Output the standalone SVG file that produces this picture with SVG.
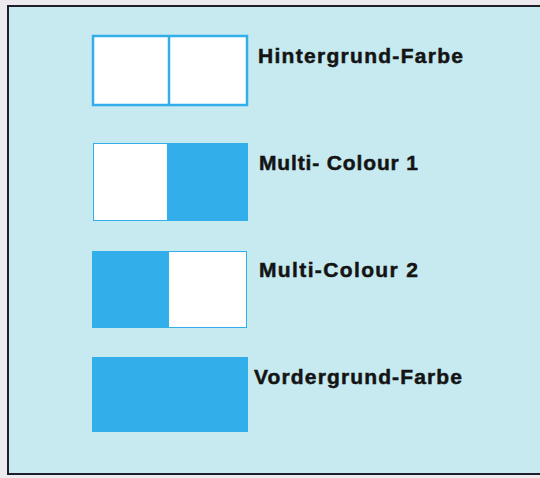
<svg xmlns="http://www.w3.org/2000/svg" width="540" height="478" viewBox="0 0 540 478">
<style>
.lbl{font-family:"Liberation Sans",Arial,sans-serif;font-weight:bold;font-size:21px;fill:#141414;stroke:#141414;stroke-width:0.5}
.w{fill:#ffffff}
.b{fill:#32aeea}
.o{fill:none;stroke:#32aeea;stroke-width:2.5}
</style>
<rect x="0" y="0" width="540" height="478" fill="#ece9ef"/>
<rect x="8" y="6" width="536" height="468" fill="#c6eaf0" stroke="#1e1e2a" stroke-width="2"/>
<g id="hintergrund">
<rect class="w" x="93" y="36" width="154" height="69"/>
<rect class="o" x="93" y="36" width="154" height="69"/>
<line x1="169" y1="36" x2="169" y2="105" stroke="#32aeea" stroke-width="2.5"/>
<text class="lbl" x="258" y="63" textLength="205" lengthAdjust="spacing">Hintergrund-Farbe</text>
</g>
<g id="multi1">
<rect class="b" x="93" y="143" width="155" height="78"/>
<rect class="w" x="94" y="144" width="73" height="76"/>
<text class="lbl" x="259" y="170" textLength="159" lengthAdjust="spacing">Multi- Colour 1</text>
</g>
<g id="multi2">
<rect class="b" x="92" y="251" width="155" height="77"/>
<rect class="w" x="169" y="252" width="77" height="75"/>
<text class="lbl" x="259" y="277" textLength="159" lengthAdjust="spacing">Multi-Colour 2</text>
</g>
<g id="vordergrund">
<rect class="b" x="92" y="357" width="156" height="75"/>
<text class="lbl" x="254" y="384" textLength="208" lengthAdjust="spacing">Vordergrund-Farbe</text>
</g>
<g id="connectors"/>
</svg>
